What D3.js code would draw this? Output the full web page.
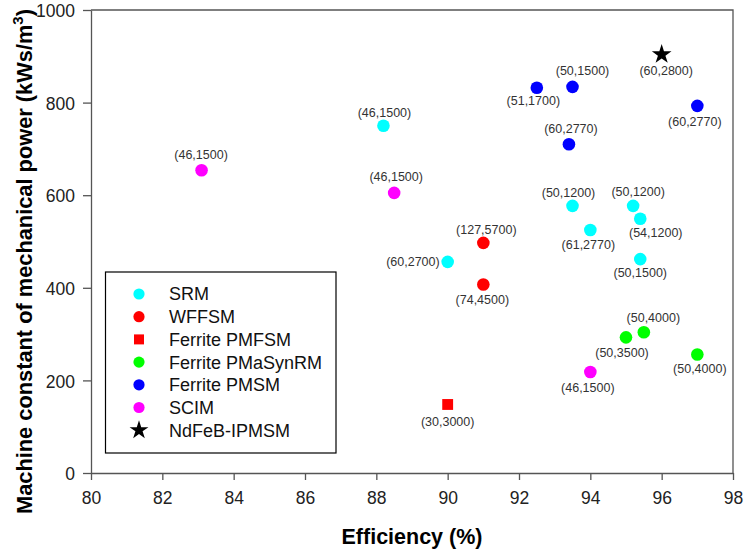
<!DOCTYPE html>
<html>
<head>
<meta charset="utf-8">
<script src="https://cdn.jsdelivr.net/npm/d3@7/dist/d3.min.js"></script>
<style>
  html, body { margin: 0; padding: 0; background: #fff; }
  svg { display: block; font-family: "Liberation Sans", Arial, sans-serif; }
</style>
</head>
<body>
<svg id="chart" width="744" height="552"></svg>
<script>
// ---------------- DATA ----------------
const categories = ["SRM", "WFFSM", "Ferrite PMFSM", "Ferrite PMaSynRM", "Ferrite PMSM", "SCIM", "NdFeB-IPMSM"];

const srmEff = [88.2, 90.0, 93.5, 94.0, 95.2, 95.4, 95.4];
const srmMc = [750, 456, 577, 525, 577, 549, 462];
const srmLabels = ["(46,1500)", "(60,2700)", "(50,1200)", "(61,2770)", "(50,1200)", "(54,1200)", "(50,1500)"];

const wffsmEff = [91.0, 91.0];
const wffsmMc = [497, 407];
const wffsmLabels = ["(127,5700)", "(74,4500)"];

const pmfsmEff = [90.0];
const pmfsmMc = [148];
const pmfsmLabels = ["(30,3000)"];

const pmasynEff = [95.0, 95.5, 97.0];
const pmasynMc = [293, 304, 256];
const pmasynLabels = ["(50,3500)", "(50,4000)", "(50,4000)"];

const pmsmEff = [92.5, 93.5, 93.4, 97.0];
const pmsmMc = [832, 834, 710, 793];
const pmsmLabels = ["(51,1700)", "(50,1500)", "(60,2770)", "(60,2770)"];

const scimEff = [83.1, 88.5, 94.0];
const scimMc = [654, 605, 218];
const scimLabels = ["(46,1500)", "(46,1500)", "(46,1500)"];

const ndfebEff = [96.0];
const ndfebMc = [904];
const ndfebLabels = ["(60,2800)"];

const xTicks = [80, 82, 84, 86, 88, 90, 92, 94, 96, 98];
const yTicks = [0, 200, 400, 600, 800, 1000];

// ---------------- STYLE / LAYOUT ----------------
const colors = ["#00FFFF", "#FF0000", "#FF0000", "#00FF00", "#0000FF", "#FF00FF", "#000000"];
const shapes = ["circle", "circle", "square", "circle", "circle", "circle", "star"];
// label offsets (dx, dy, anchor) relative to marker centre, in pixels
const labelOffsets = [
  [[1, -13, "middle"], [-8, 0, "end"], [-4, -13.5, "middle"], [-2, 15, "middle"], [5, -14.5, "middle"], [15.5, 13.5, "middle"], [0, 14, "middle"]],
  [[3, -13, "middle"], [-1, 15, "middle"]],
  [[0, 17.5, "middle"]],
  [[-4, 15, "middle"], [9.5, -14.5, "middle"], [2.5, 14.5, "middle"]],
  [[-3.5, 12.5, "middle"], [10, -16.5, "middle"], [2, -16, "middle"], [-2.5, 16, "middle"]],
  [[-0.5, -16, "middle"], [2, -16.5, "middle"], [-2.5, 15.5, "middle"]],
  [[4.5, 16.5, "middle"]]
];

const seriesEff = [srmEff, wffsmEff, pmfsmEff, pmasynEff, pmsmEff, scimEff, ndfebEff];
const seriesMc = [srmMc, wffsmMc, pmfsmMc, pmasynMc, pmsmMc, scimMc, ndfebMc];
const seriesLabels = [srmLabels, wffsmLabels, pmfsmLabels, pmasynLabels, pmsmLabels, scimLabels, ndfebLabels];

const series = categories.map((name, i) => ({
  name, color: colors[i], shape: shapes[i],
  points: seriesEff[i].map((e, j) => ({ eff: e, mc: seriesMc[i][j], label: seriesLabels[i][j], off: labelOffsets[i][j] }))
}));

// ---------------- DRAW ----------------
const svg = d3.select("#chart");
const mLeft = 91, mRight = 733, mTop = 10, mBottom = 473;

const x = d3.scaleLinear().domain([80, 98]).range([mLeft, mRight]);
const y = d3.scaleLinear().domain([0, 1000]).range([mBottom, mTop]);

const axisColor = "#555";
const tickTextColor = "#222";

// frame top/right
svg.append("path")
  .attr("d", `M${mLeft},${mTop}H${mRight}V${mBottom}`)
  .attr("fill", "none").attr("stroke", axisColor).attr("stroke-width", 1.3);

const xAxis = svg.append("g")
  .attr("transform", `translate(0,${mBottom})`)
  .call(d3.axisBottom(x).tickValues(xTicks).tickFormat(d3.format("d")).tickSize(7).tickSizeOuter(0).tickPadding(12));
const yAxis = svg.append("g")
  .attr("transform", `translate(${mLeft},0)`)
  .call(d3.axisLeft(y).tickValues(yTicks).tickFormat(d3.format("d")).tickSize(8).tickSizeOuter(0).tickPadding(8));

[xAxis, yAxis].forEach(g => {
  g.select(".domain").attr("stroke", axisColor).attr("stroke-width", 1.3);
  g.selectAll(".tick line").attr("stroke", axisColor).attr("stroke-width", 1.3);
  g.selectAll(".tick text").attr("fill", tickTextColor)
    .style("font-size", "17.5px").style("font-family", "'Liberation Sans', Arial, sans-serif");
});
yAxis.selectAll(".tick text").attr("dy", "0.38em");

// axis titles
svg.append("text")
  .attr("x", (mLeft + mRight) / 2).attr("y", 544)
  .attr("text-anchor", "middle")
  .style("font-size", "21.5px").style("font-weight", "bold")
  .attr("fill", "#000")
  .text("Efficiency (%)");

const yt = svg.append("text")
  .attr("transform", "translate(31.5,261.5) rotate(-90)")
  .attr("text-anchor", "middle")
  .style("font-size", "21.8px").style("font-weight", "bold")
  .attr("fill", "#000");
yt.append("tspan").text("Machine constant of mechanical power (kWs/m");
yt.append("tspan").attr("dy", "-9").style("font-size", "15px").text("3");
yt.append("tspan").attr("dy", "9").text(")");

// symbols
function symbolPath(shape, big) {
  if (shape === "square") return d3.symbol().type(d3.symbolSquare).size(big ? 118 : 100)();
  if (shape === "star") return d3.symbol().type(d3.symbolStar).size(big ? 120 : 110)();
  return null;
}

const plot = svg.append("g");
series.forEach(s => {
  s.points.forEach(p => {
    const cx = x(p.eff), cy = y(p.mc);
    if (s.shape === "circle") {
      plot.append("circle").attr("cx", cx).attr("cy", cy).attr("r", 6.3).attr("fill", s.color);
    } else {
      plot.append("path").attr("d", symbolPath(s.shape, true))
        .attr("transform", `translate(${cx},${cy})`).attr("fill", s.color);
    }
    plot.append("text")
      .attr("x", cx + p.off[0]).attr("y", cy + p.off[1])
      .attr("dy", "0.35em")
      .attr("text-anchor", p.off[2])
      .attr("fill", "#333")
      .style("font-size", "12.5px")
      .text(p.label);
  });
});

// legend
const lg = svg.append("g");
lg.append("rect").attr("x", 105.5).attr("y", 272).attr("width", 230.5).attr("height", 181)
  .attr("fill", "#fff").attr("stroke", "#000").attr("stroke-width", 1.2);
series.forEach((s, i) => {
  const ly = 294 + i * 22.7;
  if (s.shape === "circle") {
    lg.append("circle").attr("cx", 139).attr("cy", ly).attr("r", 5.6).attr("fill", s.color);
  } else {
    lg.append("path").attr("d", symbolPath(s.shape, false))
      .attr("transform", `translate(139,${ly})`).attr("fill", s.color);
  }
  lg.append("text").attr("x", 169).attr("y", ly).attr("dy", "0.36em")
    .attr("fill", "#111")
    .style("font-size", "18px")
    .text(s.name);
});
</script>
</body>
</html>
